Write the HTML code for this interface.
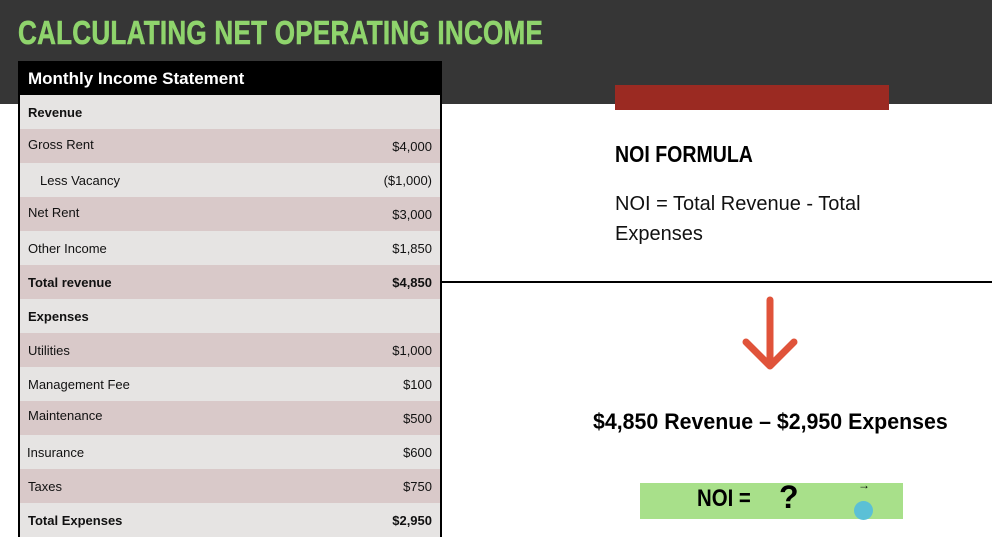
<!DOCTYPE html>
<html><head><meta charset="utf-8"><style>
body{margin:0;width:992px;height:519px;overflow:hidden;background:#fff;position:relative;font-family:"Liberation Sans",sans-serif}
.abs{position:absolute}
#hdr{left:0;top:0;width:992px;height:104px;background:#363636}
#title{left:18px;top:14px;color:#8fd46c;font-weight:bold;font-size:33px;white-space:nowrap;transform:scaleX(0.79);transform-origin:left top;letter-spacing:0.3px;-webkit-text-stroke:0.6px #8fd46c}
#tbl{left:18px;top:61px;width:420px;border:2px solid #000;border-bottom:none;background:#000}
.th{height:32px;color:#fff;font-weight:bold;font-size:17px;line-height:32px;padding-left:8px}
.row{height:34px;position:relative;font-size:13px;color:#111}
.row .l{position:absolute;left:8px;top:10px}
.row .v{position:absolute;right:8px;top:10px}
.a{background:#e6e4e3}.b{background:#d9c9c9}
.bold{font-weight:bold}
</style></head><body>
<div class="abs" id="hdr"></div>
<div class="abs" id="title">CALCULATING NET OPERATING INCOME</div>
<div class="abs" id="tbl">
<div class="th">Monthly Income Statement</div>
<div class="row a bold"><span class="l">Revenue</span></div>
<div class="row b"><span class="l" style="top:8px">Gross Rent</span><span class="v">$4,000</span></div>
<div class="row a"><span class="l" style="left:20px">Less Vacancy</span><span class="v">($1,000)</span></div>
<div class="row b"><span class="l" style="top:8px">Net Rent</span><span class="v">$3,000</span></div>
<div class="row a"><span class="l">Other Income</span><span class="v">$1,850</span></div>
<div class="row b bold"><span class="l">Total revenue</span><span class="v">$4,850</span></div>
<div class="row a bold"><span class="l">Expenses</span></div>
<div class="row b"><span class="l">Utilities</span><span class="v">$1,000</span></div>
<div class="row a"><span class="l">Management Fee</span><span class="v">$100</span></div>
<div class="row b"><span class="l" style="top:7px">Maintenance</span><span class="v">$500</span></div>
<div class="row a"><span class="l" style="left:7px">Insurance</span><span class="v">$600</span></div>
<div class="row b"><span class="l">Taxes</span><span class="v">$750</span></div>
<div class="row a bold"><span class="l">Total Expenses</span><span class="v">$2,950</span></div>
</div>
<div class="abs" style="left:615px;top:85px;width:274px;height:25px;background:#9b2a22"></div>
<div class="abs" style="left:615px;top:141px;font-weight:bold;font-size:23px;transform:scaleX(0.85);transform-origin:left top;white-space:nowrap">NOI FORMULA</div>
<div class="abs" style="left:615px;top:189px;font-size:20px;line-height:30px;color:#111;width:290px">NOI = Total Revenue - Total Expenses</div>
<div class="abs" style="left:442px;top:281px;width:550px;height:2px;background:#000"></div>
<svg class="abs" style="left:740px;top:296px" width="60" height="78"><path d="M30 4 V70 M6 46 L30 70 L54 46" stroke="#e0533a" stroke-width="7" fill="none" stroke-linecap="round" stroke-linejoin="round"/></svg>
<div class="abs" style="left:593px;top:409px;font-weight:bold;font-size:22px;white-space:nowrap;transform:scaleX(0.97);transform-origin:left top">$4,850 Revenue – $2,950 Expenses</div>
<div class="abs" style="left:640px;top:483px;width:263px;height:36px;background:#a8e08a">
<span class="abs" style="left:57px;top:2px;font-weight:bold;font-size:24px;transform:scaleX(0.85);transform-origin:left top">NOI =</span>
<span class="abs" style="left:139px;top:-4px;font-weight:bold;font-size:32px">?</span>
<span class="abs" style="left:218px;top:-5px;font-size:12px">→</span>
<div class="abs" style="left:214px;top:18px;width:19px;height:19px;border-radius:50%;background:#5bc0d6"></div>
</div>
</body></html>
